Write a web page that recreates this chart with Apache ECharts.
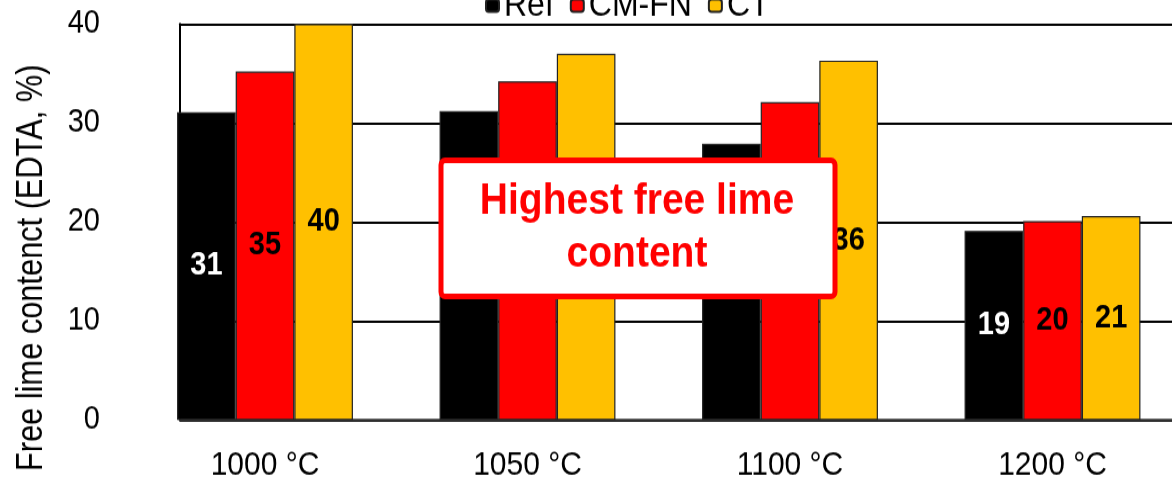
<!DOCTYPE html>
<html>
<head>
<meta charset="utf-8">
<script src="https://cdn.jsdelivr.net/npm/echarts@6/dist/echarts.min.js"></script>
<style>
html,body{margin:0;padding:0;background:#fff;overflow:hidden;}
#wrap{width:1172px;height:486px;overflow:hidden;}
#chart{width:1190px;height:432px;transform:scaleY(1.125);transform-origin:0 0;}
</style>
</head>
<body>
<div id="wrap"><div id="chart"></div></div>
<script>
const categories = ['1000 °C', '1050 °C', '1100 °C', '1200 °C'];
const seriesNames = ['Ref', 'CM-FN', 'CT'];
const refValues = [31.1, 31.2, 27.9, 19.1];
const cmfnValues = [35.2, 34.2, 32.1, 20.1];
const ctValues = [40.0, 37.0, 36.3, 20.6];
const yTicks = [0, 10, 20, 30, 40];
const annotationText = 'Highest free lime\ncontent';
const yAxisTitle = 'Free lime contenct (EDTA, %)';

const FONT = '"Liberation Sans", Arial, sans-serif';
const colors = ['#000000', '#ff0000', '#ffc000'];
const labelColors = ['#ffffff', '#000000', '#000000'];
const seriesData = [refValues, cmfnValues, ctValues];

const chart = echarts.init(document.getElementById('chart'), null, {renderer: 'canvas'});

const series = seriesNames.map((name, i) => ({
  name: name,
  type: 'bar',
  xAxisIndex: 1,
  yAxisIndex: 1,
  data: seriesData[i],
  barGap: '0%',
  barCategoryGap: '33%',
  itemStyle: {color: colors[i], borderColor: '#222', borderWidth: 1.2},
  label: {
    show: true,
    position: 'inside',
    color: labelColors[i],
    fontFamily: FONT,
    fontWeight: 'bold',
    fontSize: 29,
    formatter: p => Math.round(p.value)
  },
  emphasis: {disabled: true}
}));

chart.setOption({
  animation: false,
  backgroundColor: '#ffffff',
  legend: {
    data: seriesNames,
    top: -16,
    left: 480,
    itemWidth: 13,
    itemHeight: 11,
    itemGap: 16,
    textStyle: {fontFamily: FONT, fontSize: 32, color: '#000'},
    selectedMode: false
  },
  grid: [
    {left: 180, right: 18, top: 21.33, bottom: 58.67},
    {left: 133.75, width: 1050, top: 21.33, bottom: 58.67}
  ],
  xAxis: [
    {
      gridIndex: 0, type: 'value', min: 0, max: 1,
      axisLine: {show: true, lineStyle: {color: '#333', width: 2.5}},
      axisTick: {show: false}, axisLabel: {show: false}, splitLine: {show: false}
    },
    {
      gridIndex: 1, type: 'category', data: categories,
      axisLine: {show: false}, axisTick: {show: false},
      axisLabel: {fontFamily: FONT, fontSize: 30, color: '#000', margin: 25}
    }
  ],
  yAxis: [
    {
      gridIndex: 0, type: 'value', min: yTicks[0], max: yTicks[yTicks.length - 1], interval: 10,
      axisLine: {show: true, lineStyle: {color: '#000', width: 2}},
      axisTick: {show: false},
      axisLabel: {fontFamily: FONT, fontSize: 29, color: '#000', margin: 80, align: 'right'},
      splitLine: {show: true, lineStyle: {color: '#000', width: 2}}
    },
    {
      gridIndex: 1, type: 'value', min: yTicks[0], max: yTicks[yTicks.length - 1], interval: 10,
      show: false
    }
  ],
  series: series,
  graphic: [
    {
      type: 'text', z: 50,
      x: 32, y: 238, rotation: Math.PI / 2, scaleX: 0.76,
      style: {
        text: yAxisTitle, fill: '#000', fontFamily: FONT, fontSize: 36,
        align: 'center', verticalAlign: 'middle'
      }
    },
    {
      type: 'rect', z: 100,
      shape: {x: 441, y: 142.5, width: 394, height: 121, r: 4},
      style: {fill: '#ffffff', stroke: '#ff0000', lineWidth: 5}
    },
    {
      type: 'text', z: 101,
      x: 637, y: 202.5,
      style: {
        text: annotationText,
        fill: '#ff0000',
        fontFamily: FONT,
        fontWeight: 'bold',
        fontSize: 39,
        lineHeight: 47,
        align: 'center',
        verticalAlign: 'middle'
      }
    }
  ]
});
</script>
</body>
</html>
